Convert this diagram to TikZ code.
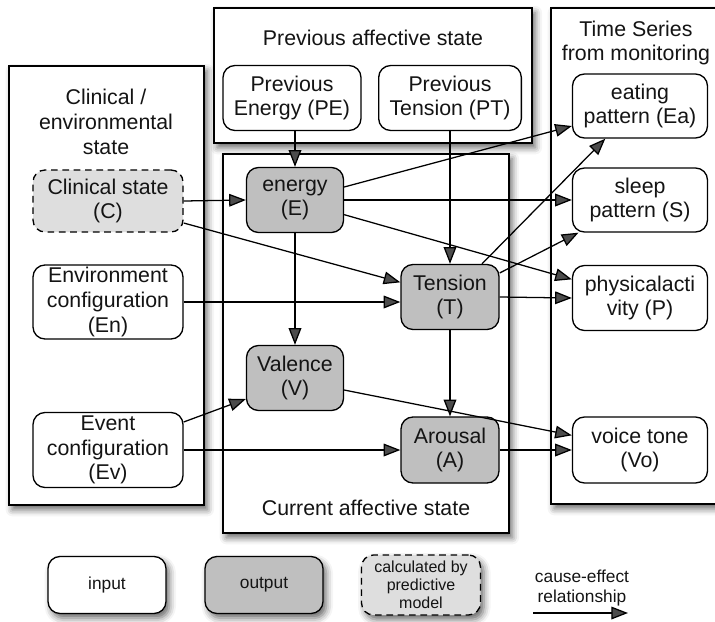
\documentclass[tikz,border=0pt]{standalone}
\usepackage{fontspec}
\setmainfont{Liberation Sans}
\usetikzlibrary{arrows.meta,shadows.blur}
\begin{document}
\begin{tikzpicture}[x=0.75pt,y=-0.75pt,
  every node/.style={font=\fontsize{16}{18.5}\selectfont, text=black!92, align=center},
  box/.style={draw, line width=1pt, rounded corners=9pt, inner sep=1pt},
  inbox/.style={box, fill=white},
  outbox/.style={box, fill=black!25},
  calcbox/.style={box, fill=black!13, dash pattern=on 5pt off 3.5pt},
  softshadow/.style={blur shadow={shadow xshift=2.5pt, shadow yshift=-3.5pt, shadow blur radius=5pt, shadow opacity=60}},
  panel/.style={draw, line width=1pt, fill=white, softshadow},
  arr/.style={line width=0.95pt, -{Triangle[length=12.5pt,width=9.5pt]}},
  legtext/.style={font=\fontsize{13}{15}\selectfont},
]
\path[use as bounding box] (0,0) rectangle (715,622);

% group panels
\draw[panel] (9,66) rectangle (204,505);
\draw[panel] (214,8) rectangle (532,143);
\draw[panel] (223,154) rectangle (509,533);
\draw[panel] (551,8) rectangle (730,504);

% panel titles
\node (tleft)  at (106,122) {Clinical /\\environmental\\state};
\node (ttop)   at (373,38)  {Previous affective state};
\node (tcur)   at (366,508) {Current affective state};
\node (tright) at (636,43)  {Time Series\\from monitoring};

% previous affective state
\node[inbox, minimum width=103.5pt, minimum height=48.75pt] (PE) at (292,98) {Previous\\Energy (PE)};
\node[inbox, minimum width=107pt,   minimum height=48.75pt] (PT) at (450,98) {Previous\\Tension (PT)};

% clinical / environmental state
\node[calcbox, minimum width=112.5pt, minimum height=46.5pt]  (C)  at (108,201) {Clinical state\\(C)};
\node[inbox,   minimum width=112.5pt, minimum height=55.5pt]  (En) at (108,302) {Environment\\configuration\\(En)};
\node[inbox,   minimum width=112.5pt, minimum height=56.25pt] (Ev) at (108,450) {Event\\configuration\\(Ev)};

% current affective state
\node[outbox, minimum width=72.75pt, minimum height=48.75pt] (E) at (295,200) {energy\\(E)};
\node[outbox, minimum width=72.75pt, minimum height=48.75pt] (V) at (295,378) {Valence\\(V)};
\node[outbox, minimum width=73.5pt,  minimum height=48.75pt] (T) at (450,297) {Tension\\(T)};
\node[outbox, minimum width=73.5pt,  minimum height=49.5pt]  (A) at (450,450) {Arousal\\(A)};

% time series from monitoring
\node[inbox, minimum width=101.25pt, minimum height=48pt]    (Ea) at (640,106) {eating\\pattern (Ea)};
\node[inbox, minimum width=101.25pt, minimum height=48pt]    (S)  at (640,200) {sleep\\pattern (S)};
\node[inbox, minimum width=101.25pt, minimum height=48.75pt] (P)  at (640,298) {physicalacti\\vity (P)};
\node[inbox, minimum width=101.25pt, minimum height=49.5pt]  (Vo) at (640,450) {voice tone\\(Vo)};

% cause-effect relationships
\draw[arr] (E.north |- PE.south) -- (E.north);
\draw[arr] (PT.south) -- (T.north);
\draw[arr] (C.east) -- (E.west);
\draw[arr] ([yshift=-16.5pt]C.east) -- ([yshift=11pt]T.west);
\draw[arr] (En.east) -- (T.west |- En.east);
\draw[arr] (E.south) -- (V.north);
\draw[arr] ([yshift=9.75pt]E.east) -- ([yshift=-15pt]Ea.west);
\draw[arr] (E.east) -- (S.west);
\draw[arr] ([yshift=-11pt]E.east) -- ([yshift=14pt]P.west);
\draw[arr] ([xshift=24pt]T.north) -- ([xshift=-26pt]Ea.south);
\draw[arr] ([yshift=18pt]T.east) -- ([xshift=5pt]S.south west);
\draw[arr] (T.east) -- (P.west);
\draw[arr] (T.south) -- (A.north);
\draw[arr] ([yshift=-9pt]V.east) -- ([yshift=11pt]Vo.west);
\draw[arr] ([yshift=21pt]Ev.east) -- ([yshift=-15.75pt]V.west);
\draw[arr] (Ev.east) -- (A.west);
\draw[arr] (A.east) -- (Vo.west);

% legend
\node[inbox, softshadow, legtext, minimum width=88.5pt, minimum height=42.75pt] (Lin)  at (107,585) {input};
\node[outbox, softshadow, legtext, minimum width=88.5pt, minimum height=42.75pt] (Lout) at (264,585) {output};
\node[calcbox, softshadow, font=\fontsize{12}{13.5}\selectfont, minimum width=89.25pt, minimum height=45pt] (Lcalc) at (421,585) {calculated by\\predictive\\model};
\node[legtext] (Lrel) at (582,588) {cause-effect\\relationship};
\coordinate (La) at (533,613);
\coordinate (Lb) at (628,613);
\draw[arr] (La) -- (Lb);
\end{tikzpicture}
\end{document}
